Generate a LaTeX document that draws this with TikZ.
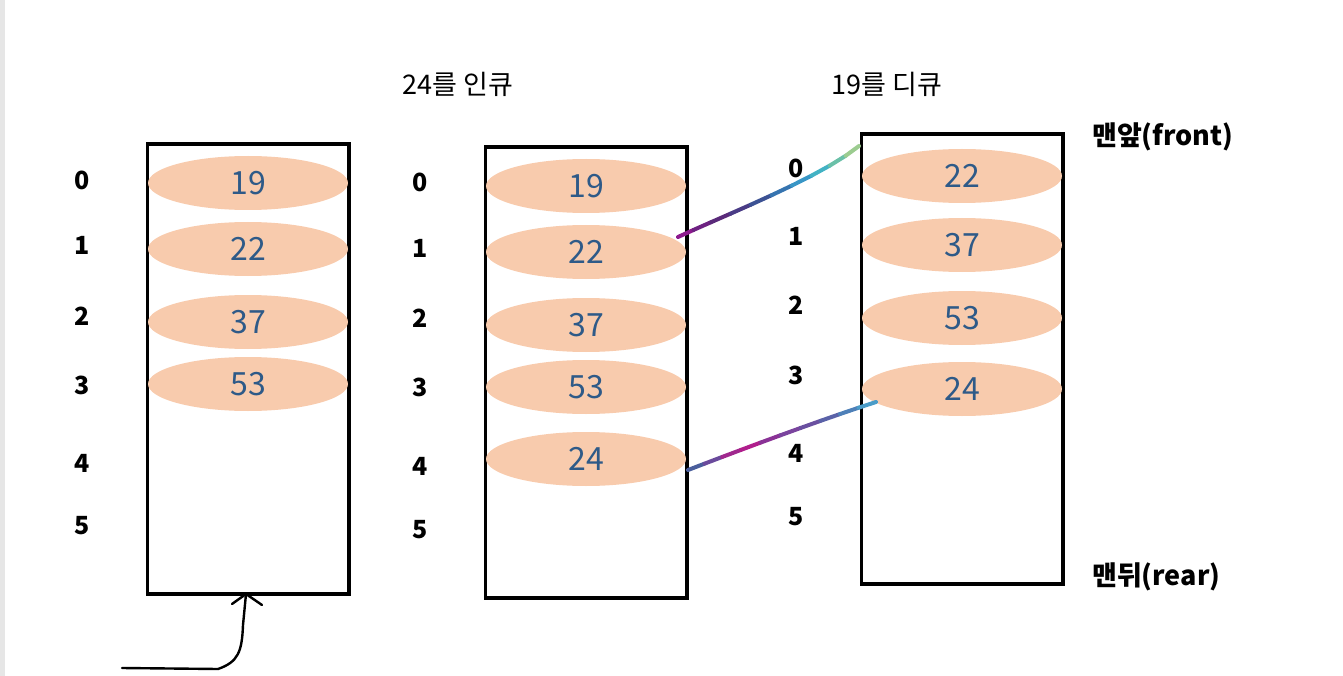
\documentclass[tikz,border=0pt]{standalone}
\usepackage{fontspec}
\setmainfont{Noto Sans CJK KR}
\usetikzlibrary{calc,shapes.geometric}
\definecolor{peach}{HTML}{F8CBAD}
\definecolor{numc}{HTML}{2E5A88}
\definecolor{barg}{HTML}{E6E6E6}
\tikzset{
  qbox/.style={draw=black,line width=2.5pt},
  item/.style={ellipse,fill=peach,minimum width=200pt,minimum height=54pt,inner sep=0pt,text=numc,font=\fontsize{32}{34}\selectfont},
  idx/.style={font=\fontsize{25}{28}\selectfont\bfseries,inner sep=0pt},
  title/.style={font=\fontsize{27}{30}\selectfont,inner sep=0pt},
  side/.style={font=\fontsize{27}{30}\selectfont\bfseries,inner sep=0pt,anchor=west},
  seg/.style={line width=4pt,line cap=round},
  hand/.style={line width=2.4pt,line cap=round,line join=round}
}
\begin{document}
\begin{tikzpicture}[x=1pt,y=-1pt]
\useasboundingbox (0,0) rectangle (1343,676);
\fill[barg] (0,0) rectangle (5,676);
% boxes
\node[qbox,minimum width=200pt,minimum height=448pt,inner sep=0pt] (b1) at (248,369) {};
\node[qbox,minimum width=200pt,minimum height=449pt,inner sep=0pt] (b2) at (586,372.5) {};
\node[qbox,minimum width=200pt,minimum height=448pt,inner sep=0pt] (b3) at (962,359) {};
% items box1
\node[item] (a0) at (248,183) {19};
\node[item] (a1) at (248,249) {22};
\node[item] (a2) at (248,322) {37};
\node[item] (a3) at (248,384) {53};
% items box2
\node[item] (c0) at (586,186) {19};
\node[item] (c1) at (586,252) {22};
\node[item] (c2) at (586,325) {37};
\node[item] (c3) at (586,387) {53};
\node[item] (c4) at (586,459) {24};
% items box3
\node[item] (d0) at (962,176) {22};
\node[item] (d1) at (962,245) {37};
\node[item] (d2) at (962,318) {53};
\node[item] (d3) at (962,389) {24};
% redraw box outlines on top
\draw[line width=2.5pt] (b1.north west) rectangle (b1.south east);
\draw[line width=2.5pt] (b2.north west) rectangle (b2.south east);
\draw[line width=2.5pt] (b3.north west) rectangle (b3.south east);
% indices
\foreach \n/\y in {0/180,1/245,2/316,3/385,4/463,5/526} \node[idx] (i1\n) at (82,\y) {\n};
\foreach \n/\y in {0/182,1/248,2/318,3/387,4/466,5/530} \node[idx] (i2\n) at (420,\y) {\n};
\foreach \n/\y in {0/168,1/236,2/305,3/375,4/453,5/517} \node[idx] (i3\n) at (796,\y) {\n};
% titles
\node[title] (t1) at (458,84) {24를 인큐};
\node[title] (t2) at (887,84) {19를 디큐};
\node[side] (front) at (1092,137) {맨앞(front)};
\node[side] (rear) at (1092,577) {맨뒤(rear)};
% gradient line 1
\coordinate (g1s) at (678,237);
\coordinate (g1e) at (859,146);
\path (g1s) .. controls (725,215) and (820,178) .. (g1e)
  \foreach \k in {0,1,...,10} {coordinate[pos=\k/10] (p\k)};
\foreach \a/\b/\c in {0/1/8E1A8E,1/2/6E2282,2/3/5A2A7A,3/4/4A3C86,4/5/3C5294,5/6/3674B0,6/7/3896C6,7/8/42B2C4,8/9/6AC0A8,9/10/9CCC90}{
  \definecolor{segc}{HTML}{\c}
  \draw[seg,draw=segc] (p\a) -- (p\b);}
% gradient line 2
\coordinate (g2s) at (688,470);
\coordinate (g2e) at (876,402);
\path (g2s) .. controls (740,450) and (820,420) .. (g2e)
  \foreach \k in {0,1,...,10} {coordinate[pos=\k/10] (q\k)};
\foreach \a/\b/\c in {0/1/4A5E9C,1/2/6A4A9C,2/3/A0288E,3/4/B01E8C,4/5/8A3296,5/6/7A449E,6/7/6A50A0,7/8/5A62A8,8/9/4E80B8,9/10/4A9CC8}{
  \definecolor{segc}{HTML}{\c}
  \draw[seg,draw=segc] (q\a) -- (q\b);}
% hand arrow
\coordinate (h0) at (122,668);
\coordinate (h1) at (246,594);
\draw[hand] (h0) -- (218,669) .. controls (238,662) and (242,652) .. (243,625) -- (h1);
\draw[hand] (232,604) -- (h1) -- (262,605);
\end{tikzpicture}
\end{document}
